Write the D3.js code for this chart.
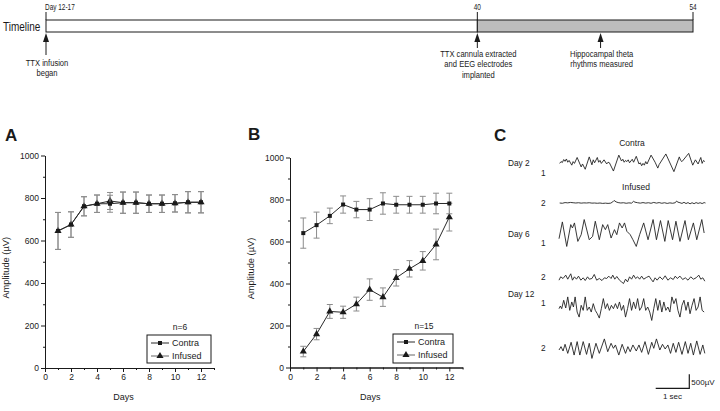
<!DOCTYPE html>
<html><head><meta charset="utf-8">
<script src="https://cdn.jsdelivr.net/npm/d3@7"></script>
<style>
body{margin:0;background:#fff}
svg{display:block;font-family:"Liberation Sans",Arial,sans-serif}
</style>
</head><body><svg id="c" width="720" height="411"></svg>
<script>
// ---------- DATA ----------
const days = [1,2,3,4,5,6,7,8,9,10,11,12];
const aContra     = [645,675,761,773,773,778,778,773,773,775,780,780];
const aContraErr  = [87,60,45,41,40,50,50,41,41,41,50,50];
const aInfused    = [645,675,761,773,786,778,778,773,773,775,780,780];
const aInfusedErr = [87,60,45,41,40,50,50,41,41,41,50,50];
const bContra     = [640,678,722,776,752,752,781,775,775,775,781,781];
const bContraErr  = [72,62,37,41,39,52,51,40,40,40,49,49];
const bInfused    = [76,159,267,263,302,371,335,427,470,508,586,716];
const bInfusedErr = [25,27,33,29,33,51,44,39,39,44,73,66];
const yTicks = [0,200,400,600,800,1000];
const xTicks = [0,2,4,6,8,10,12];

const timelineTicks = [{day:12,label:"Day 12-17",anchor:"start"},{day:40,label:"40",anchor:"middle"},{day:54,label:"54",anchor:"middle"}];
const timelineEvents = [
  {day:12, lines:["TTX infusion","began"]},
  {day:40, lines:["TTX cannula extracted","and EEG electrodes","implanted"]},
  {day:48, lines:["Hippocampal theta","rhythms measured"]}
];

// EEG traces: [time ms, amplitude µV]
const trDay2Contra = [[20,-32],[60,32],[100,0],[140,105],[180,42],[220,126],[260,10],[300,74],[380,-95],[420,32],[460,-32],[540,179],[660,-158],[700,-53],[780,-242],[900,200],[980,-84],[1020,95],[1060,-10],[1140,179],[1180,10],[1220,74],[1260,-32],[1340,95],[1420,-53],[1460,10],[1500,-10],[1620,-305],[1780,263],[1860,53],[1900,116],[1940,10],[1980,74],[2020,32],[2060,95],[2100,-10],[2180,116],[2220,10],[2300,221],[2380,-53],[2420,-10],[2460,-116],[2500,-32],[2540,-95],[2580,32],[2620,-53],[2740,263],[2860,10],[2940,-200],[2980,-74],[3180,305],[3420,-326],[3580,200],[3620,74],[3660,32],[3860,326],[3980,-95],[4060,95],[4140,-53],[4220,179],[4260,-32],[4300,74],[4340,32]];
const trDay2Infused = [[20,0],[100,-10],[180,15],[260,5],[340,20],[420,10],[500,0],[580,10],[660,-5],[740,5],[820,0],[900,10],[980,-5],[1060,0],[1140,-10],[1220,0],[1300,-15],[1380,-5],[1460,-15],[1540,-5],[1600,40],[1640,90],[1700,40],[1760,15],[1840,0],[1920,10],[2000,-10],[2080,5],[2160,-5],[2220,60],[2260,30],[2340,10],[2420,-5],[2500,15],[2580,-5],[2660,10],[2740,-10],[2820,20],[2900,-5],[2980,15],[3060,-10],[3140,10],[3220,-15],[3300,5],[3380,-10],[3460,10],[3500,70],[3540,30],[3600,10],[3660,-15],[3720,25],[3780,-20],[3840,15],[3900,-30],[3960,10],[4020,-25],[4080,15],[4140,-15],[4200,10],[4260,-20],[4320,15],[4360,0]];
const trDay6Contra = [[0,-204],[100,396],[230,-480],[350,300],[400,180],[460,360],[560,-300],[660,-60],[750,480],[900,-240],[1000,-120],[1080,420],[1200,-240],[1300,300],[1380,120],[1450,300],[1550,-180],[1650,120],[1720,-60],[1800,360],[1880,180],[1950,360],[2020,60],[2120,-60],[2200,-240],[2300,-480],[2400,-60],[2520,360],[2650,-240],[2800,480],[2900,-240],[3020,444],[3150,-300],[3250,444],[3380,-240],[3480,420],[3600,-300],[3750,444],[3850,-240],[4000,360],[4100,-240],[4250,480],[4320,0]];
const trDay6Infused = [[0,-60],[50,60],[120,0],[200,120],[260,-24],[350,168],[400,-60],[460,60],[520,-24],[580,84],[650,-60],[720,24],[780,-72],[850,60],[900,-24],[980,0],[1050,144],[1120,-60],[1200,0],[1280,-72],[1350,24],[1420,0],[1480,84],[1550,0],[1600,120],[1660,-24],[1720,72],[1800,-60],[1860,-120],[1920,-180],[1980,-24],[2040,-120],[2100,60],[2160,-24],[2220,120],[2280,0],[2340,60],[2400,-24],[2460,84],[2520,-24],[2600,36],[2680,84],[2740,-24],[2800,-120],[2860,24],[2920,-60],[3000,60],[3080,-36],[3160,96],[3240,-60],[3320,24],[3400,-36],[3460,84],[3520,0],[3600,84],[3680,-36],[3760,24],[3840,-60],[3920,60],[4000,-24],[4080,24],[4160,120],[4220,-24],[4280,24],[4340,-96]];
const trDay12Contra = [[0,-60],[40,36],[80,-60],[140,240],[200,-36],[260,360],[320,-120],[380,180],[430,0],[480,360],[540,-180],[600,-360],[660,60],[720,-120],[780,360],[840,-120],[900,0],[960,-180],[1020,120],[1080,-120],[1140,-240],[1200,-396],[1260,-60],[1320,300],[1380,-60],[1440,120],[1500,-120],[1560,60],[1620,-60],[1680,120],[1740,-60],[1800,180],[1860,-120],[1920,60],[1980,-360],[2040,-60],[2100,300],[2160,-120],[2220,180],[2280,-60],[2340,300],[2400,-120],[2460,0],[2520,300],[2580,-120],[2640,0],[2700,-180],[2760,-480],[2820,-60],[2880,300],[2940,-120],[3000,240],[3060,-180],[3120,180],[3180,-120],[3240,0],[3300,-180],[3360,360],[3420,120],[3480,300],[3540,-120],[3600,-360],[3660,60],[3720,240],[3780,-120],[3840,180],[3900,-240],[3960,60],[4020,300],[4080,-120],[4140,0],[4200,360],[4260,-120],[4320,-180]];
const trDay12Infused = [[0,-36],[60,84],[120,-72],[180,168],[260,-156],[360,240],[450,-216],[540,264],[620,-216],[720,264],[820,-192],[900,204],[980,-336],[1100,204],[1200,-156],[1350,360],[1450,-96],[1550,204],[1620,24],[1680,144],[1780,-216],[1880,168],[1980,-156],[2050,84],[2120,-96],[2200,144],[2300,-72],[2380,144],[2460,-120],[2560,264],[2660,-192],[2760,240],[2820,24],[2900,360],[3000,-36],[3080,168],[3160,0],[3240,144],[3320,-156],[3400,204],[3480,-120],[3560,240],[3660,-192],[3760,264],[3840,-156],[3920,204],[4000,-216],[4100,288],[4200,-192],[4280,144],[4340,-156]];

// ---------- DRAW ----------
const svg = d3.select("#c");
const ink = "#1a1a1a";

// condensed text helper (the figure uses a narrow sans face)
function narrowText(g, x, y, size, str, anchor, sx){
  return g.append("text").attr("transform",`translate(${x},${y}) scale(${sx||0.82},1)`)
    .attr("text-anchor",anchor||"start").attr("font-size",size).attr("fill",ink).text(str);
}

// Timeline
const tx = d3.scaleLinear().domain([12,54]).range([46,693]);
const tl = svg.append("g");
narrowText(tl, 3, 31, 12.5, "Timeline", "start", 0.8);
tl.append("rect").attr("x",tx(12)).attr("y",20).attr("width",tx(40)-tx(12)).attr("height",12)
  .attr("fill","#fff").attr("stroke",ink).attr("stroke-width",1);
tl.append("rect").attr("x",tx(40)).attr("y",20).attr("width",tx(54)-tx(40)).attr("height",12)
  .attr("fill","#bdbdbd").attr("stroke",ink).attr("stroke-width",1);
timelineTicks.forEach(t=>{
  tl.append("line").attr("x1",tx(t.day)).attr("x2",tx(t.day)).attr("y1",12).attr("y2",20).attr("stroke",ink);
  narrowText(tl, tx(t.day)-(t.anchor==="start"?1:0), 10, 8.5, t.label, t.anchor, 0.76);
});
timelineEvents.forEach((e,i)=>{
  const x = tx(e.day);
  const bottom = i===0 ? 55 : 48;
  tl.append("line").attr("x1",x).attr("x2",x).attr("y1",40).attr("y2",bottom).attr("stroke",ink);
  tl.append("path").attr("d",`M${x},33L${x-3},42L${x+3},42Z`).attr("fill",ink);
  const y0 = i===0 ? 65.5 : 56.5;
  e.lines.forEach((ln,j)=>narrowText(tl, x+1, y0+j*10.8, 9.5, ln, "middle", 0.8));
});

// Line charts
const panels = [
  {letter:"A", lx:5, ly:141, contra:aContra, cErr:aContraErr, infused:aInfused, iErr:aInfusedErr,
   xr:[45,214], yr:[368,155.5], n:"n=6", leg:{x:147,y:335,w:64,h:28}, ylabX:9},
  {letter:"B", lx:248, ly:140, contra:bContra, cErr:bContraErr, infused:bInfused, iErr:bInfusedErr,
   xr:[290,462.6], yr:[367.5,157.5], n:"n=15", leg:{x:393,y:334,w:60,h:29}, ylabX:254}
];
const tri = d3.symbol().type(d3.symbolTriangle).size(22);
panels.forEach(p=>{
  const g = svg.append("g");
  const x = d3.scaleLinear().domain([0,13]).range(p.xr);
  const y = d3.scaleLinear().domain([0,1000]).range(p.yr);
  g.append("text").attr("x",p.lx).attr("y",p.ly).attr("font-size",17).attr("font-weight","bold").attr("fill",ink).text(p.letter);
  g.append("g").attr("transform",`translate(${p.xr[0]},0)`)
    .call(d3.axisLeft(y).tickValues(yTicks).tickSize(4).tickSizeOuter(0).tickPadding(2).tickFormat(d3.format("d")));
  g.append("g").attr("transform",`translate(${p.xr[0]},0)`)
    .call(d3.axisLeft(y).tickValues(d3.range(100,1000,200)).tickSize(2).tickSizeOuter(0).tickFormat(""));
  g.append("g").attr("transform",`translate(0,${p.yr[0]})`)
    .call(d3.axisBottom(x).tickValues(xTicks).tickSize(4).tickSizeOuter(0).tickPadding(2));
  g.append("g").attr("transform",`translate(0,${p.yr[0]})`)
    .call(d3.axisBottom(x).tickValues(d3.range(1,14,2)).tickSize(2).tickSizeOuter(0).tickFormat(""));
  g.selectAll(".domain,.tick line").attr("stroke",ink);
  g.selectAll(".tick text").attr("font-size",8.5).attr("fill",ink).attr("font-family","Liberation Sans, Arial, sans-serif");
  g.append("text").attr("x",(x(0)+x(13))/2 - 6).attr("y",400).attr("text-anchor","middle").attr("font-size",9).attr("fill",ink).text("Days");
  g.append("text").attr("transform",`translate(${p.ylabX},${(y(0)+y(1000))/2 + 6}) rotate(-90)`).attr("text-anchor","middle")
    .attr("font-size",9.3).attr("fill",ink).text("Amplitude (\u00b5V)");
  const series = [
    {vals:p.infused, err:p.iErr, mark:"tri"},
    {vals:p.contra, err:p.cErr, mark:"sq"}
  ];
  series.forEach(s=>{
    const pts = days.map((d,i)=>({d, v:s.vals[i], e:s.err[i]}));
    const eb = g.append("g").attr("stroke","#8c8c8c").attr("stroke-width",1);
    pts.forEach(q=>{
      eb.append("line").attr("x1",x(q.d)).attr("x2",x(q.d)).attr("y1",y(q.v-q.e)).attr("y2",y(q.v+q.e));
      [q.v-q.e,q.v+q.e].forEach(v=>eb.append("line").attr("x1",x(q.d)-3).attr("x2",x(q.d)+3).attr("y1",y(v)).attr("y2",y(v)));
    });
    g.append("path").datum(pts).attr("fill","none").attr("stroke","#2a2a2a").attr("stroke-width",1)
      .attr("d",d3.line().x(q=>x(q.d)).y(q=>y(q.v)));
    pts.forEach(q=>{
      if(s.mark==="sq") g.append("rect").attr("x",x(q.d)-2).attr("y",y(q.v)-2).attr("width",4).attr("height",4).attr("fill",ink);
      else g.append("path").attr("d",tri).attr("transform",`translate(${x(q.d)},${y(q.v)})`).attr("fill",ink);
    });
  });
  const L = p.leg;
  g.append("text").attr("x",L.x+L.w/2+1).attr("y",L.y-5).attr("text-anchor","middle").attr("font-size",8.5).attr("fill",ink).text(p.n);
  g.append("rect").attr("x",L.x).attr("y",L.y).attr("width",L.w).attr("height",L.h).attr("fill","#fff").attr("stroke",ink);
  [["Contra","sq","#2a2a2a",L.y+8],["Infused","tri","#666",L.y+21]].forEach(([lab,m,col,yy])=>{
    g.append("line").attr("x1",L.x+4).attr("x2",L.x+22).attr("y1",yy).attr("y2",yy).attr("stroke",col);
    if(m==="sq") g.append("rect").attr("x",L.x+11).attr("y",yy-2).attr("width",4).attr("height",4).attr("fill",ink);
    else g.append("path").attr("d",tri).attr("transform",`translate(${L.x+13},${yy})`).attr("fill",ink);
    g.append("text").attr("x",L.x+25).attr("y",yy+3).attr("font-size",9).attr("fill",ink).text(lab);
  });
});

// Panel C : EEG traces
const gc = svg.append("g");
gc.append("text").attr("x",494).attr("y",141).attr("font-size",17).attr("font-weight","bold").attr("fill",ink).text("C");
const ex = d3.scaleLinear().domain([0,1000]).range([559,592.6]); // 1 sec
const traces = [
  {data:trDay2Contra,  base:162.5, day:"Day 2", dayY:165.5, ch:"1", chY:176},
  {data:trDay2Infused, base:203,   day:null,    ch:"2", chY:206},
  {data:trDay6Contra,  base:233,   day:"Day 6", dayY:237, ch:"1", chY:245.5},
  {data:trDay6Infused, base:278.5, day:null,    ch:"2", chY:279.5},
  {data:trDay12Contra, base:307,   day:"Day 12",dayY:297, ch:"1", chY:306},
  {data:trDay12Infused,base:349,   day:null,    ch:"2", chY:351}
];
traces.forEach(t=>{
  const ey = d3.scaleLinear().domain([0,500]).range([t.base,t.base-14]);
  gc.append("path").datum(t.data).attr("fill","none").attr("stroke","#222").attr("stroke-width",0.9)
    .attr("stroke-linejoin","round").attr("d",d3.line().x(d=>ex(d[0])).y(d=>ey(d[1])));
  if(t.day) gc.append("text").attr("x",508).attr("y",t.dayY).attr("font-size",8.3).attr("fill",ink).text(t.day);
  gc.append("text").attr("x",541).attr("y",t.chY).attr("font-size",8.3).attr("fill",ink).text(t.ch);
});
gc.append("text").attr("x",632).attr("y",146).attr("text-anchor","middle").attr("font-size",8.5).attr("fill",ink).text("Contra");
gc.append("text").attr("x",636).attr("y",190).attr("text-anchor","middle").attr("font-size",8.5).attr("fill",ink).text("Infused");
const sb = d3.scaleLinear().domain([0,500]).range([388.3,374.3]);
const sx = d3.scaleLinear().domain([0,1000]).range([655.7,689.3]);
gc.append("path").attr("fill","none").attr("stroke",ink).attr("stroke-width",1.2)
  .attr("d",`M${sx(0)},${sb(0)}H${sx(1000)}V${sb(500)}`);
gc.append("text").attr("x",sx(1000)+2).attr("y",384.5).attr("font-size",8).attr("fill",ink).text("500\u00b5V");
gc.append("text").attr("x",(sx(0)+sx(1000))/2).attr("y",399).attr("text-anchor","middle").attr("font-size",8).attr("fill",ink).text("1 sec");
</script></body></html>
